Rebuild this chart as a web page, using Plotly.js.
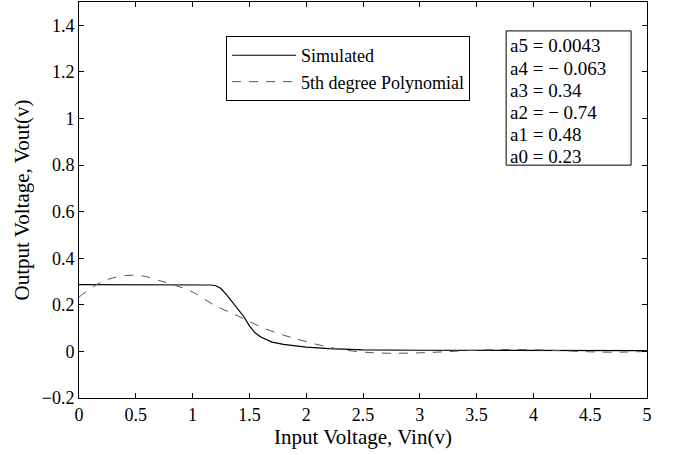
<!DOCTYPE html>
<html>
<head>
<meta charset="utf-8">
<script src="https://cdn.plot.ly/plotly-3.0.1.min.js"></script>
<style>html,body{margin:0;padding:0;background:#fff;}#chart{width:673px;height:455px;}</style>
</head>
<body>
<div id="chart"></div>
<script>
// Simulated curve
const simX = [0, 0.5, 1.0, 1.15, 1.2, 1.25, 1.3, 1.35, 1.4, 1.45, 1.5, 1.55, 1.6, 1.7, 1.8, 1.9, 2.0, 2.2, 2.5, 3.0, 3.5, 4.0, 4.5, 5.0];
const simY = [0.287, 0.287, 0.286, 0.285, 0.283, 0.27, 0.243, 0.213, 0.183, 0.15, 0.11, 0.08, 0.062, 0.04, 0.03, 0.023, 0.018, 0.012, 0.007, 0.005, 0.004, 0.003, 0.003, 0.003];
// 5th degree polynomial fit
const polyX = [0, 0.125, 0.25, 0.4, 0.55, 0.7, 0.85, 1.0, 1.2, 1.4, 1.6, 1.8, 2.0, 2.2, 2.4, 2.6, 2.8, 3.0, 3.2, 3.4, 3.6, 3.8, 4.0, 4.2, 4.4, 4.6, 4.8, 5.0];
const polyY = [0.233, 0.278, 0.308, 0.325, 0.325, 0.305, 0.283, 0.255, 0.196, 0.152, 0.105, 0.07, 0.042, 0.018, 0.002, -0.006, -0.008, -0.006, -0.002, 0.003, 0.007, 0.008, 0.007, 0.004, 0.0, -0.003, -0.003, 0.0];
const seriesNames = ["Simulated", "5th degree Polynomial"];
const coefLines = ["a5 = 0.0043", "a4 = \u2212 0.063", "a3 = 0.34", "a2 = \u2212 0.74", "a1 = 0.48", "a0 = 0.23"];
const xTicks = [0, 0.5, 1, 1.5, 2, 2.5, 3, 3.5, 4, 4.5, 5];
const yTicks = [-0.2, 0, 0.2, 0.4, 0.6, 0.8, 1, 1.2, 1.4];
const yTickText = ["\u22120.2", "0", "0.2", "0.4", "0.6", "0.8", "1", "1.2", "1.4"];

const FONT = "'Liberation Serif', 'Times New Roman', serif";

const traces = [
  {x: simX, y: simY, type: "scatter", mode: "lines", name: seriesNames[0],
   line: {color: "#000000", width: 1.2}},
  {x: polyX, y: polyY, type: "scatter", mode: "lines", name: seriesNames[1],
   line: {color: "#555555", width: 1, dash: "9px,8px", shape: "spline"}}
];

const axisCommon = {
  showgrid: false, zeroline: false, showline: true, linecolor: "#000", linewidth: 1,
  mirror: "ticks", ticks: "inside", ticklen: 5, tickcolor: "#000", tickwidth: 1,
  tickfont: {family: FONT, size: 18, color: "#000"}
};

// Coefficient box: one annotation per line inside a bordered rectangle
const boxLeft = 0.752, boxTop = 0.927, boxBottom = 0.588, lineStep = 0.0559;
const annotations = coefLines.map((t, i) => ({
  xref: "paper", yref: "paper", x: boxLeft + 0.004, y: boxTop - 0.038 - i * lineStep,
  xanchor: "left", yanchor: "middle", text: t, showarrow: false, align: "left",
  font: {family: FONT, size: 19, color: "#000"}
}));

const layout = {
  width: 673, height: 455,
  margin: {l: 79, r: 26, t: 2, b: 57},
  paper_bgcolor: "#fff", plot_bgcolor: "#fff",
  font: {family: FONT, color: "#000"},
  xaxis: Object.assign({}, axisCommon, {
    range: [0, 5], tickvals: xTicks, ticktext: xTicks.map(String),
    title: {text: "Input Voltage, Vin(v)", font: {family: FONT, size: 21, color: "#000"}, standoff: 2}
  }),
  yaxis: Object.assign({}, axisCommon, {
    range: [-0.2, 1.5], tickvals: yTicks, ticktext: yTickText,
    title: {text: "Output Voltage, Vout(v)", font: {family: FONT, size: 21, color: "#000"}, standoff: 6}
  }),
  showlegend: true,
  legend: {
    x: 0.259, y: 0.914, xanchor: "left", yanchor: "top",
    bgcolor: "#fff", bordercolor: "#000", borderwidth: 1,
    font: {family: FONT, size: 18, color: "#000"},
    itemwidth: 64, tracegroupgap: 0
  },
  shapes: [{
    type: "rect", xref: "paper", yref: "paper",
    x0: boxLeft, x1: 0.972, y0: boxBottom, y1: boxTop,
    line: {color: "#000", width: 1}, fillcolor: "#fff", layer: "above"
  }],
  annotations: annotations
};

Plotly.newPlot("chart", traces, layout, {displayModeBar: false, staticPlot: true});
</script>
</body>
</html>
